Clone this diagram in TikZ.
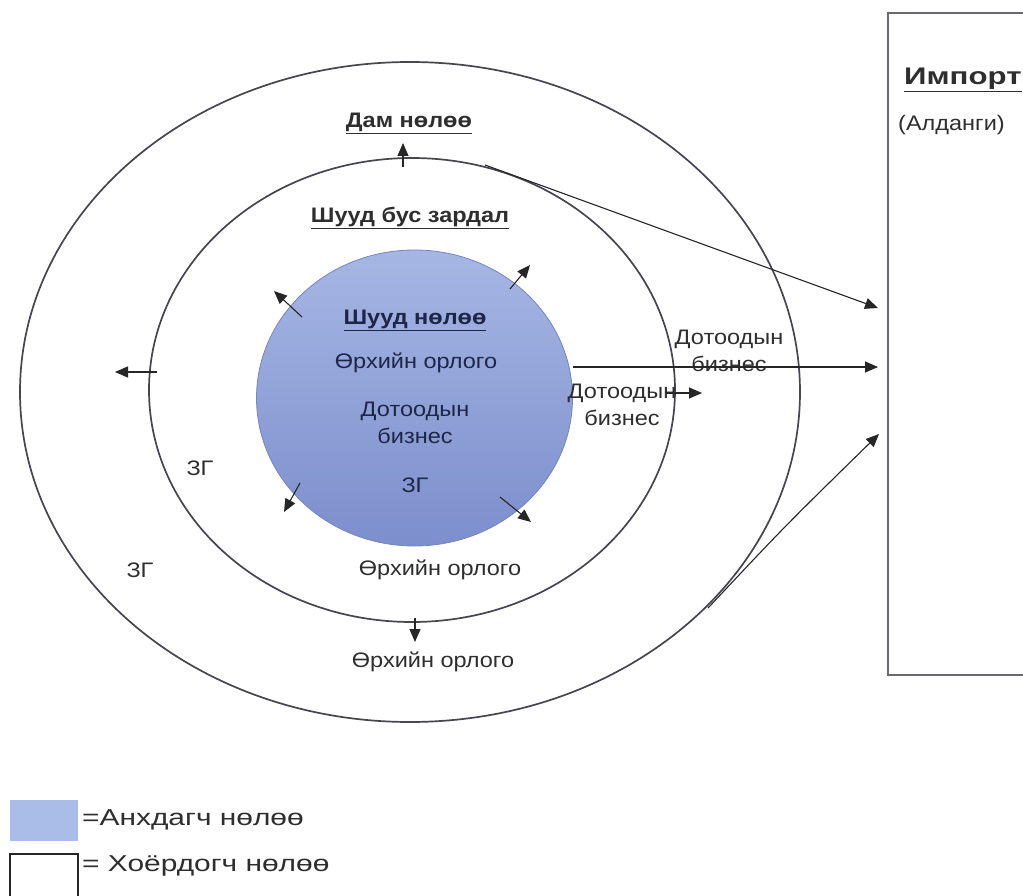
\documentclass[tikz,border=0pt]{standalone}
\usepackage{fontspec}
\setmainfont[FakeStretch=1.12]{Liberation Sans}
\newfontfamily\widefont[FakeStretch=1.3]{Liberation Sans}
\usetikzlibrary{arrows.meta,shapes.geometric}
\definecolor{linegray}{HTML}{45464F}
\definecolor{txtgray}{HTML}{2E2E2E}
\definecolor{navy}{HTML}{1E2648}
\definecolor{ctop}{HTML}{A6B6E4}
\definecolor{cbot}{HTML}{7C8ECC}
\definecolor{cedge}{HTML}{7585C2}
\definecolor{legblue}{HTML}{A9BDE8}
\begin{document}
\begin{tikzpicture}[x=1pt,y=-1pt,
  ring/.style={draw=linegray,line width=1.7pt},
  lbl/.style={text=txtgray,font=\fontsize{21}{27}\selectfont,inner sep=0pt,align=center},
  blbl/.style={lbl,font=\fontsize{21}{27}\selectfont\bfseries},
  leglbl/.style={text=txtgray,font=\widefont\fontsize{23}{27}\selectfont,inner sep=0pt},
  inlbl/.style={lbl,text=navy},
  arr/.style={draw=black!85,line width=1.1pt,-{Triangle[length=13pt,width=11pt]}},
]
\useasboundingbox (0,0) rectangle (1023,896);
\fill[white] (0,0) rectangle (1023,896);
% rings
\node[ellipse,ring,minimum width=780pt,minimum height=660pt,inner sep=0pt] (outer) at (410,392) {};
\node[ellipse,ring,minimum width=526pt,minimum height=464pt,inner sep=0pt] (middle) at (412,390) {};
\node[ellipse,draw=cedge,line width=0.8pt,top color=ctop,bottom color=cbot,minimum width=316pt,minimum height=296pt,inner sep=0pt] (inner) at (414.5,398) {};
% import box
\draw[draw=linegray!80,line width=1.7pt] (1023,13) -- (888,13) -- (888,675) -- (1023,675);
\node[text=txtgray,font=\widefont\fontsize{24}{27}\selectfont\bfseries,inner sep=0pt,anchor=west] (imp) at (904,80) {\underline{Импорт}};
\node[lbl,anchor=west] (ald) at (898,125) {(Алданги)};
% labels
\node[blbl] (dam) at (409,123) {\underline{Дам нөлөө}};
\node[blbl] (sbz) at (410,218) {\underline{Шууд бус зардал}};
\node[blbl,text=navy] (shn) at (415,320) {\underline{Шууд нөлөө}};
\node[inlbl] (io1) at (416,363) {Өрхийн орлого};
\node[inlbl] (idb) at (415,423) {Дотоодын\\бизнес};
\node[inlbl] (izg) at (415,485) {ЗГ};
\node[lbl] (odb) at (729,351) {Дотоодын\\бизнес};
\node[lbl] (mdb) at (622,405) {Дотоодын\\бизнес};
\node[lbl] (mzg) at (200,468) {ЗГ};
\node[lbl] (ozg) at (140,570) {ЗГ};
\node[lbl] (mo) at (440,570) {Өрхийн орлого};
\node[lbl] (oo) at (433,662) {Өрхийн орлого};
% arrow end points
\coordinate (damS) at (403,167);
\coordinate (damE) at (403,143);
\coordinate (lS) at (157,372);
\coordinate (lE) at (115,372);
\coordinate (bS) at (415,618);
\coordinate (bE) at (415,642);
\coordinate (ulS) at (302,317);
\coordinate (ulE) at (274,291);
\coordinate (urS) at (510,289);
\coordinate (urE) at (530,265);
\coordinate (llS) at (300,483);
\coordinate (llE) at (284,512);
\coordinate (lrS) at (500,497);
\coordinate (lrE) at (531,522);
\coordinate (mdS) at (666,393);
\coordinate (mdE) at (702,393);
\coordinate (t1S) at (485,165);
\coordinate (t1E) at (878,308);
\coordinate (t2S) at (573,367);
\coordinate (t2E) at (878,367);
\coordinate (t3S) at (708,608);
\coordinate (t3E) at (879,434);
% arrows
\draw[arr] (damS) -- (damE);
\draw[arr] (lS) -- (lE);
\draw[arr] (bS) -- (bE);
\draw[arr] (ulS) -- (ulE);
\draw[arr] (urS) -- (urE);
\draw[arr] (llS) -- (llE);
\draw[arr] (lrS) -- (lrE);
\draw[arr] (mdS) -- (mdE);
\draw[arr] (t1S) -- (t1E);
\draw[arr] (t2S) -- (t2E);
\draw[arr] (t3S) .. controls (785,526) .. (t3E);
% legend
\node[fill=legblue,minimum width=68pt,minimum height=41pt,inner sep=0pt] (leg1) at (44,820) {};
\draw[draw=black!85,line width=1.7pt] (10,896) -- (10,854) -- (78,854) -- (78,896);
\node[leglbl,anchor=west] (leg1t) at (82,820) {=Анхдагч нөлөө};
\node[leglbl,anchor=west] (leg2t) at (82,866) {= Хоёрдогч нөлөө};
\end{tikzpicture}
\end{document}
